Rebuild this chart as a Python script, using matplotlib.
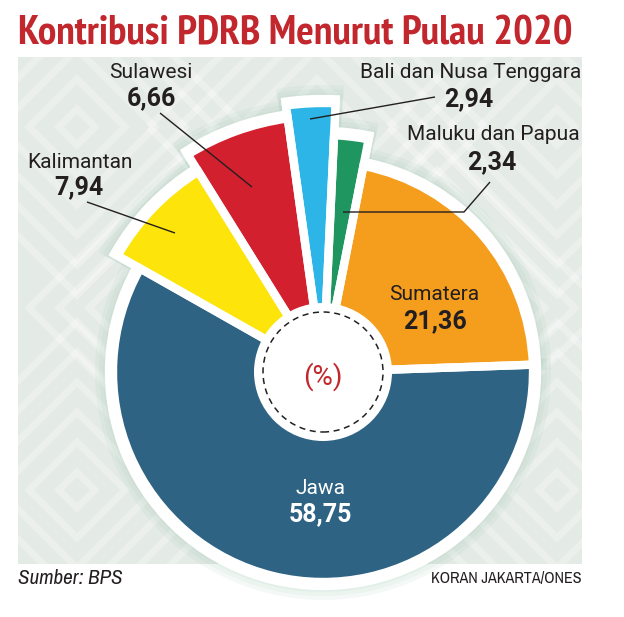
import numpy as np
import matplotlib
matplotlib.use("Agg")
import matplotlib.pyplot as plt
from matplotlib.patches import Wedge, Circle, Rectangle, Polygon
from matplotlib import font_manager
from matplotlib.font_manager import FontProperties

# ---------------- data ----------------
# order in which the slices run counter-clockwise from the right
categories = ["Sumatera", "Maluku dan Papua", "Bali dan Nusa Tenggara",
              "Sulawesi", "Kalimantan", "Jawa"]
values = [21.36, 2.34, 2.94, 6.66, 7.94, 58.75]
value_labels = ["21,36", "2,34", "2,94", "6,66", "7,94", "58,75"]
title = "Kontribusi PDRB Menurut Pulau 2020"
center_label = "(%)"
source = "Sumber: BPS"
credit = "KORAN JAKARTA/ONES"

# ---------------- style ----------------
colors = ["#f59e1d", "#1f9660", "#2cb5e6", "#d3202e", "#fde40a", "#2e6383"]
radii = [210, 237, 269, 256, 236, 210]
W, H = 624, 617
CX, CY = 323, 372
START = 2.0

REG = "Roboto"

def find_condensed(weight_bold=False, italic=False):
    best = None
    for f in font_manager.fontManager.ttflist:
        nm = (f.name + " " + f.fname).lower()
        cond = ("narrow" in nm) or ("condensed" in nm) or (str(f.stretch) in ("condensed", "semi-condensed", "extra-condensed"))
        if not cond:
            continue
        w = f.weight if isinstance(f.weight, int) else (700 if "bold" in str(f.weight) else 400)
        isb = w >= 600
        isi = f.style in ("italic", "oblique")
        if isb == weight_bold and isi == italic:
            score = 0 if "narrow" in nm else 1
            if best is None or score < best[0]:
                best = (score, f.fname)
    return best[1] if best else None

def fp(bold=False, italic=False, size=12, fallback=REG):
    fn = find_condensed(bold, italic)
    if fn:
        return FontProperties(fname=fn, size=size), True
    return FontProperties(family=fallback, weight="bold" if bold else "normal",
                          style="italic" if italic else "normal", size=size), False

def Y(y):
    return H - y

fig = plt.figure(figsize=(W / 100, H / 100), dpi=100)
ax = fig.add_axes([0, 0, 1, 1])
ax.set_xlim(0, W)
ax.set_ylim(0, H)
ax.axis("off")
fig.patch.set_facecolor("white")

# ---- background panel with diamond pattern ----
px0, px1, py0, py1 = 18, 582, 57, 564
panel = Rectangle((px0, Y(py1)), px1 - px0, py1 - py0, facecolor="#e4eae6",
                  edgecolor="none", zorder=0)
ax.add_patch(panel)
centres = [(77, 127), (317, 127), (557, 127), (77, 490), (317, 490), (557, 490),
           (197, 308), (437, 308)]
for (dx, dy) in centres:
    for d in [18, 48, 78, 108, 138, 168]:
        poly = Polygon([(dx - d, Y(dy)), (dx, Y(dy) + d), (dx + d, Y(dy)), (dx, Y(dy) - d)],
                       closed=True, fill=False, edgecolor="white", alpha=0.3,
                       lw=5, zorder=0.5)
        ax.add_patch(poly)
        poly.set_clip_path(panel)

# ---- slices ----
cy = Y(CY)
total = sum(values)
angles = np.cumsum([0] + [v / total * 360 for v in values]) + START
GAP_LW = 6.0
for i in range(len(values)):
    a0, a1 = angles[i], angles[i + 1]
    r = radii[i]
    for extra in [18, 14, 10]:
        ax.add_patch(Wedge((CX, cy), r + extra, a0 - 1.5, a1 + 1.5,
                           facecolor="#9cc8b2", edgecolor="none", alpha=0.10, zorder=1))
    ax.add_patch(Wedge((CX, cy), r + 4, a0, a1, facecolor="white",
                       edgecolor="white", lw=GAP_LW, zorder=2))
for i in range(len(values)):
    a0, a1 = angles[i], angles[i + 1]
    ax.add_patch(Wedge((CX, cy), radii[i], a0, a1, facecolor=colors[i],
                       edgecolor="none", zorder=3))
for i in range(len(values)):
    a0, a1 = angles[i], angles[i + 1]
    ax.add_patch(Wedge((CX, cy), radii[i], a0, a1, facecolor="none",
                       edgecolor="white", lw=GAP_LW, zorder=4))

ax.add_patch(Circle((CX, cy), 69, facecolor="white", edgecolor="none", zorder=5))
ax.add_patch(Circle((CX, cy), 60, facecolor="none", edgecolor="#222222",
                    lw=1.1, linestyle=(0, (4, 3)), zorder=6))
ax.text(CX, Y(377), center_label, ha="center", va="center", fontsize=20,
        color="#c1272d", family=REG, zorder=7)

# ---- labels ----
dark = "#231f20"
label_pos = {
    "Sumatera": ((434, 295), (435, 321), dark),
    "Maluku dan Papua": ((493, 135), (492, 162), dark),
    "Bali dan Nusa Tenggara": ((471, 72), (469, 99), dark),
    "Sulawesi": ((151, 72), (151, 98), dark),
    "Kalimantan": ((80, 162), (79, 187), dark),
    "Jawa": ((320, 488), (320, 514), "white"),
}
for cat, val in zip(categories, value_labels):
    (nx, ny), (vx, vy), c = label_pos[cat]
    ax.text(nx, Y(ny), cat, ha="center", va="center", fontsize=15, color=c,
            family=REG, zorder=8)
    ax.text(vx, Y(vy), val, ha="center", va="center", fontsize=18, color=c,
            family=REG, fontweight="bold", zorder=8)

leaders = [
    [(160, 113), (252, 187)],
    [(87, 202), (175, 233)],
    [(435, 97), (310, 119)],
    [(490, 182), (464, 212), (343, 212)],
]
for pts in leaders:
    ax.plot([p[0] for p in pts], [Y(p[1]) for p in pts], color="#231f20",
            lw=1.0, zorder=9, solid_capstyle="butt")

# ---- title & footer ----
tp, cond = fp(bold=True, size=29.8)
if not cond:
    tp.set_size(21.5)
ax.text(18, Y(34), title, ha="left", va="center", fontproperties=tp,
        color="#c1272d", zorder=10)
sp, cond = fp(italic=True, size=15.2)
if not cond:
    sp.set_size(13)
ax.text(18, Y(578), source, ha="left", va="center", fontproperties=sp,
        color=dark, zorder=10)
cp, cond = fp(size=11.6)
if not cond:
    cp.set_size(10)
ax.text(582, Y(578), credit, ha="right", va="center", fontproperties=cp,
        color=dark, zorder=10)

fig.savefig("out.png", dpi=100, facecolor="white")
